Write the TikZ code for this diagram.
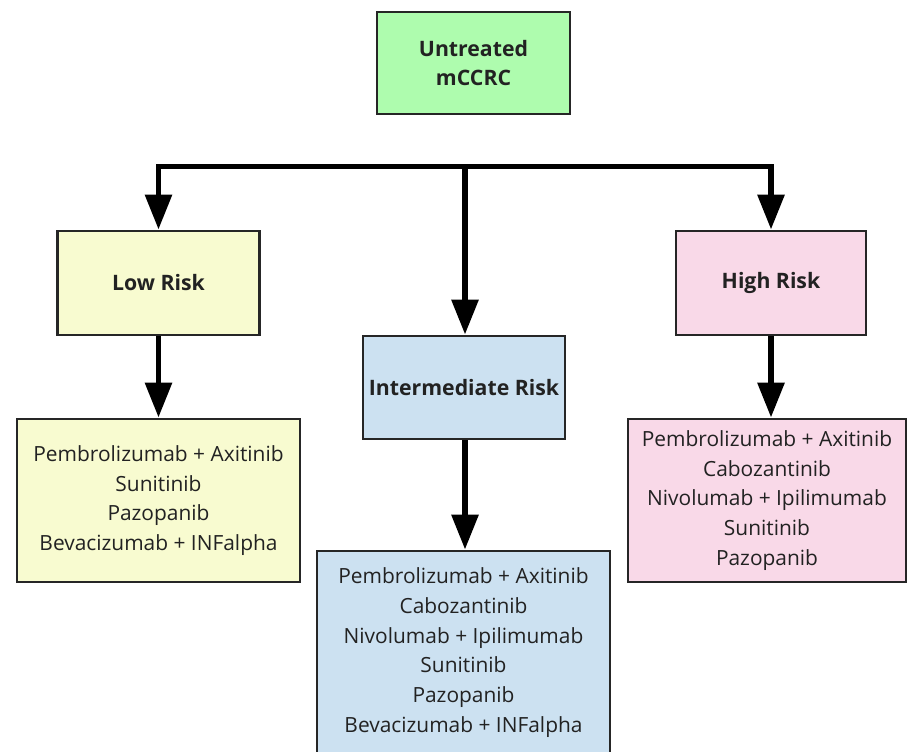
\documentclass[tikz,border=0pt]{standalone}
\usepackage{fontspec}
\setmainfont{Open Sans}
\usepackage{tikz}
\usetikzlibrary{arrows.meta,positioning}

\definecolor{untreatgreen}{HTML}{AEFCAE}
\definecolor{lowyellow}{HTML}{F8FBD0}
\definecolor{midblue}{HTML}{CCE1F1}
\definecolor{highpink}{HTML}{F9D9E8}
\definecolor{inktext}{HTML}{222222}

\begin{document}
\begin{tikzpicture}[x=0.02cm, y=-0.02cm,
    riskbox/.style={draw=black!85, line width=1.6pt, inner sep=0pt, align=center,
                    text=inktext, font=\fontsize{12.1}{17}\selectfont\bfseries},
    drugbox/.style={draw=black!85, line width=1.6pt, inner sep=0pt, align=center,
                    text=inktext, font=\fontsize{11.9}{17}\selectfont},
    flow/.style={line width=3.4pt, line join=miter, -{Triangle[length=0.7cm, width=0.52cm]}}]
      \useasboundingbox (0, 0) rectangle (908, 751);
      % top and the three groups
      \node (root) [riskbox, fill=untreatgreen, minimum width=3.86cm, minimum height=2.04cm]
            at (473.5, 63) {Untreated\\mCCRC};
      \node (low) [riskbox, fill=lowyellow, minimum width=4.04cm, minimum height=2.08cm]
            at (158.5, 283) {Low Risk};
      \node (mid) [riskbox, fill=midblue, minimum width=4.04cm, minimum height=2.06cm]
            at (464, 387.5) {Intermediate Risk};
      \node (high) [riskbox, fill=highpink, minimum width=3.8cm, minimum height=2.08cm]
            at (771, 283) {High Risk};
      % treatment lists
      \node (lowlist) [drugbox, fill=lowyellow, minimum width=5.66cm, minimum height=3.26cm]
            at (158.5, 500.5) {Pembrolizumab + Axitinib\\Sunitinib\\Pazopanib\\Bevacizumab + INFalpha};
      \node (midlist) [drugbox, fill=midblue, minimum width=5.86cm, minimum height=4.06cm]
            at (463.5, 652.5) {Pembrolizumab + Axitinib\\Cabozantinib\\Nivolumab + Ipilimumab\\Sunitinib\\Pazopanib\\Bevacizumab + INFalpha};
      \node (highlist) [drugbox, fill=highpink, minimum width=5.56cm, minimum height=3.26cm]
            at (767, 500.5) {Pembrolizumab + Axitinib\\Cabozantinib\\Nivolumab + Ipilimumab\\Sunitinib\\Pazopanib};
      % branching
      \coordinate (split) at (465, 166.5);
      \draw[flow] (split) -| (low);
      \draw[flow] (split) -| (high);
      \draw[flow] (split) -- (split |- mid.north);
      \draw[flow] (low.south) -- (low.south |- lowlist.north);
      \draw[flow] (mid.south -| split) -- (split |- midlist.north);
      \draw[flow] (high.south) -- (high.south |- highlist.north);
\end{tikzpicture}
\end{document}
